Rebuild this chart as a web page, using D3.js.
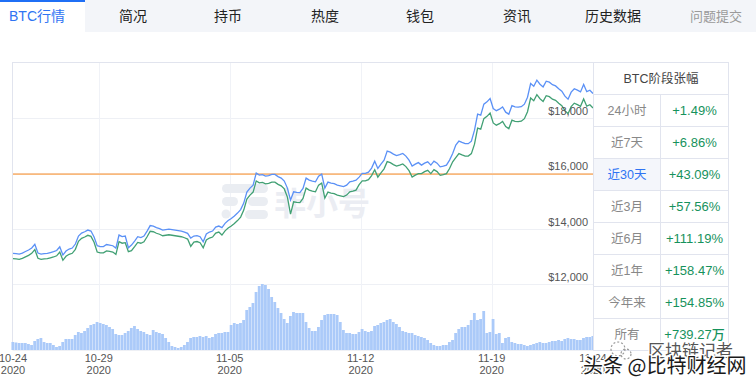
<!DOCTYPE html>
<html><head><meta charset="utf-8">
<script src="https://cdn.jsdelivr.net/npm/d3@7"></script>
<style>
html,body{margin:0;padding:0;background:#fff;}
svg{display:block;font-family:"Liberation Sans","Noto Sans CJK SC",Arial,sans-serif;}
</style></head>
<body>
<svg id="c" width="756" height="383"></svg>
<script>
// ---------------- DATA ----------------
const tabs = ["BTC行情","简况","持币","热度","钱包","资讯","历史数据","问题提交"];
const startTime = new Date(2020, 9, 24, 10, 0); // first sample, 4-hour steps
const stepHours = 4;
const bluePrice = [13105,13098,13080,13116,13170,13224,13296,13429,13116,13080,13098,13105,13134,13163,13206,13343,13044,13188,13260,13296,
13440,13728,13836,13883,13944,13908,13692,13379,13350,13350,13422,13404,13379,13296,13764,13710,13728,13307,13404,13548,
13703,13674,13728,13908,14106,14088,14034,13998,13944,13962,13980,13962,13944,13926,13908,13872,13825,13656,13728,13746,
13703,13523,13800,13872,13908,14052,14088,14034,14185,14286,14358,14448,14556,14682,14916,15312,15456,15564,15996,15924,
15942,15888,15906,15949,15949,15870,15816,15708,15456,15024,15323,15301,15294,15445,15816,15744,15708,15683,15888,15960,
15456,15672,15636,15618,15564,15539,15510,15564,15683,15708,15744,15852,15985,15985,16032,16176,16428,16165,16320,16464,
16788,16752,16680,16626,16662,16705,16608,16464,16248,16320,16374,16284,16356,16403,16284,16428,16356,16223,16248,16284,
16464,16705,17004,17148,17101,17058,17058,17148,17544,18120,18084,18480,18563,18685,18325,18246,18300,18383,18192,18120,
18426,18383,18372,18390,18480,18732,19225,19128,19344,19200,19103,19308,19272,19182,19139,19038,18948,18768,18660,18912,
19038,18984,18923,19189,18930,18984,18865];
const greenPrice = [12915,12908,12890,12926,12980,13034,13106,13239,12926,12890,12908,12915,12944,12973,13016,13153,12854,12998,13070,13106,
13250,13538,13646,13693,13754,13718,13502,13152,13123,13123,13195,13177,13152,13069,13524,13470,13488,13163,13199,13343,
13498,13469,13523,13703,13901,13883,13829,13793,13739,13757,13775,13757,13739,13721,13703,13667,13620,13356,13512,13530,
13487,13307,13584,13656,13692,13836,13872,13764,13915,14016,14088,14178,14286,14412,14664,15060,15204,15312,15715,15643,
15661,15607,15625,15668,15668,15589,15535,15427,15132,14520,14963,14941,14934,15085,15456,15384,15348,15323,15564,15636,
15096,15312,15276,15258,15204,15179,15150,15204,15323,15348,15384,15582,15715,15715,15762,15906,16115,15852,16007,16151,
16410,16374,16302,16248,16284,16327,16230,16086,15852,15924,15978,15978,16050,16097,15978,16122,16050,15917,15942,15978,
16162,16403,16554,16698,16651,16608,16608,16698,17040,17616,17580,17958,18041,18163,17803,17724,17778,17861,17670,17598,
17904,17861,17850,17868,17958,18210,18703,18606,18822,18678,18581,18786,18750,18660,18617,18516,18426,18246,18138,18390,
18516,18462,18401,18667,18408,18462,18343];
const volume = [8,7.5,7,7,7,6,5,9,11,12,8,7,7,5,3,4,8,11,11,11,
15,18,17,19,22,25,26,28,27,26,25,23,21,16,15,15,17,19,22,24,
21,19,18,16,15,20,18,17,16,12,8,4,3,2,3,5,8,12,13,13,
14,13,14,12,13,16,17,17,18,18,25,27,26,27,30,40,43,47,58,64,
66,65,61,53,48,42,37,31,27,34,38,37,37,37,28,22,19,19,23,30,
35,36,36,36,35,28,20,17,17,16,16,18,21,19,18,19,24,25,27,28,
30,31,28,26,23,19,18,17,17,15,14,13,12,10,7,5,4,4,5,5,
8,10,17,21,23,23,25,30,37,30,31,39,17,18,31,16,17,7,12,13,
8,7,6,6,5,4,5,6,7,8,7,7,8,9,9,10,9,11,12,11,
11,10,10,12,13,13,14];
const referencePrice = 15960;
const priceTicks = [12000,14000,16000,18000];
const dateTicks = [new Date(2020,9,29), new Date(2020,10,5), new Date(2020,10,12), new Date(2020,10,19)];
const periodLabels = ["24小时","近7天","近30天","近3月","近6月","近1年","今年来","所有"];
const periodValues = ["+1.49%","+6.86%","+43.09%","+57.56%","+111.19%","+158.47%","+154.85%","+739.27万"];
const tableTitle = "BTC阶段张幅";
const selectedPeriod = 2;

// ---------------- DRAW ----------------
const svg = d3.select("#c");
const times = bluePrice.map((_, i) => d3.timeHour.offset(startTime, i * stepHours));
const endTime = times[times.length - 1];

// tab bar
svg.append("rect").attr("x",0).attr("y",0).attr("width",756).attr("height",32).attr("fill","#f3f5f9");
svg.append("rect").attr("x",0).attr("y",0).attr("width",85).attr("height",32).attr("fill","#fff");
svg.append("rect").attr("x",0).attr("y",0).attr("width",85).attr("height",2).attr("fill","#1f6ff5");
const tabX = [37,133,228,325,420,517,613,716];
tabs.forEach((t,i)=>{
  svg.append("text").attr("x",tabX[i]).attr("y",21).attr("text-anchor","middle")
    .attr("font-size", i===7?13:14)
    .attr("fill", i===0?"#2f74f3":(i===7?"#9a9a9a":"#222"))
    .text(t);
});

const x = d3.scaleTime().domain([startTime, endTime]).range([13, 593]);
const y = d3.scaleLinear().domain([12000, 20000]).range([284, 62]);
const yv = d3.scaleLinear().domain([0, d3.max(volume)]).range([350, 284]);

// grid
const g = svg.append("g");
g.selectAll("line.hg").data(priceTicks).join("line")
  .attr("x1",13).attr("x2",593).attr("y1",d=>Math.round(y(d))+0.5).attr("y2",d=>Math.round(y(d))+0.5)
  .attr("stroke","#eef0f5");
g.selectAll("line.vg").data(dateTicks).join("line")
  .attr("x1",d=>Math.round(x(d))+0.5).attr("x2",d=>Math.round(x(d))+0.5).attr("y1",62).attr("y2",350)
  .attr("stroke","#f0f2f7");
// frame
g.append("line").attr("x1",12.5).attr("x2",12.5).attr("y1",62).attr("y2",350).attr("stroke","#e1e4ee");
g.append("line").attr("x1",12.5).attr("x2",728.5).attr("y1",62.5).attr("y2",62.5).attr("stroke","#e1e4ee");
g.append("line").attr("x1",12.5).attr("x2",593).attr("y1",350.5).attr("y2",350.5).attr("stroke","#eef0f5");

// watermark logo
const wm = svg.append("g").attr("fill","#eaedf2");
wm.append("rect").attr("x",222).attr("y",184).attr("width",46).attr("height",9).attr("rx",4.5);
wm.append("rect").attr("x",222).attr("y",197).attr("width",16).attr("height",9).attr("rx",4.5);
wm.append("rect").attr("x",248).attr("y",197).attr("width",20).attr("height",9).attr("rx",4.5);
wm.append("circle").attr("cx",226).attr("cy",214).attr("r",4.5);
wm.append("rect").attr("x",245).attr("y",210).attr("width",23).attr("height",9).attr("rx",4.5);
wm.append("text").attr("x",274).attr("y",215).attr("font-size",32).attr("font-weight","bold")
  .attr("font-family","Noto Sans CJK SC").attr("fill","#ebedf3").text("非小号");

// volume bars
const bw = (x(times[1]) - x(times[0]));
svg.append("g").selectAll("rect").data(volume).join("rect")
  .attr("x",(d,i)=>x(times[i]) - bw/2)
  .attr("width",bw*0.9)
  .attr("y",d=>yv(d)).attr("height",d=>350 - yv(d))
  .attr("fill","#abcaf9");

// reference line
svg.append("line").attr("x1",13).attr("x2",593).attr("y1",y(referencePrice)).attr("y2",y(referencePrice))
  .attr("stroke","#f9b97c").attr("stroke-width",1.6);

// price lines
const line = d3.line().x((d,i)=>x(times[i])).y(d=>y(d));
svg.append("path").datum(greenPrice).attr("d",line).attr("fill","none").attr("stroke","#41a074").attr("stroke-width",1.3);
svg.append("path").datum(bluePrice).attr("d",line).attr("fill","none").attr("stroke","#5b91f6").attr("stroke-width",1.3);

// y axis labels (right, inside)
svg.append("g").selectAll("text").data(priceTicks).join("text")
  .attr("x",588).attr("y",d=>y(d)-3).attr("text-anchor","end")
  .attr("font-size",11).attr("fill","#555")
  .text(d=>"$"+d3.format(",")(d));

// x axis labels
const xLabels = [startTime, ...dateTicks, endTime];
const fmtMD = d3.timeFormat("%m-%d"), fmtY = d3.timeFormat("%Y");
const xl = svg.append("g").selectAll("g").data(xLabels).join("g")
  .attr("transform",d=>`translate(${x(d)},0)`);
xl.append("text").attr("y",362).attr("text-anchor","middle").attr("font-size",11).attr("fill","#555").text(d=>fmtMD(d));
xl.append("text").attr("y",374).attr("text-anchor","middle").attr("font-size",11).attr("fill","#555").text(d=>fmtY(d));

// table
const tb = svg.append("g");
const tX0 = 593.5, tX1 = 660.5, tX2 = 728.5, tY0 = 62.5, headH = 32, rowH = 32;
const tY1 = tY0 + headH + rowH*periodLabels.length;
tb.append("rect").attr("x",tX0).attr("y",tY0).attr("width",tX2-tX0).attr("height",tY1-tY0).attr("fill","#fff");
tb.append("rect").attr("x",tX0).attr("y",tY0+headH+rowH*selectedPeriod).attr("width",tX1-tX0).attr("height",rowH).attr("fill","#f4f6fb");
tb.append("text").attr("x",(tX0+tX2)/2).attr("y",tY0+headH/2+4.5).attr("text-anchor","middle")
  .attr("font-size",12.5).attr("fill","#444").text(tableTitle);
periodLabels.forEach((lab,i)=>{
  const cy = tY0+headH+rowH*i+rowH/2;
  tb.append("text").attr("x",(tX0+tX1)/2).attr("y",cy+4.5).attr("text-anchor","middle")
    .attr("font-size",12.5).attr("fill", i===selectedPeriod?"#2f74f3":"#888").text(lab);
  tb.append("text").attr("x",(tX1+tX2)/2).attr("y",cy+4.5).attr("text-anchor","middle")
    .attr("font-size",13).attr("font-weight",500).attr("fill","#16925c").text(periodValues[i]);
});
const rowYs = d3.range(periodLabels.length+1).map(i=>tY0+headH+rowH*i);
tb.selectAll("line.r").data(rowYs).join("line")
  .attr("x1",tX0).attr("x2",tX2).attr("y1",d=>d).attr("y2",d=>d).attr("stroke","#e1e4ee");
tb.append("line").attr("x1",tX1).attr("x2",tX1).attr("y1",tY0+headH).attr("y2",tY1).attr("stroke","#e1e4ee");
tb.append("rect").attr("x",tX0).attr("y",tY0).attr("width",tX2-tX0).attr("height",tY1-tY0)
  .attr("fill","none").attr("stroke","#e1e4ee");

// bottom-right watermark
const wk = svg.append("g").attr("font-family","Noto Sans CJK SC");
wk.append("text").attr("x",648).attr("y",357).attr("font-size",17).attr("fill","#555")
  .attr("stroke","#fff").attr("stroke-width",2.5).attr("paint-order","stroke").text("区块链记者");
wk.append("circle").attr("cx",618).attr("cy",349).attr("r",7).attr("fill","none").attr("stroke","#999").attr("stroke-width",1.2).attr("stroke-dasharray","2,2");
wk.append("circle").attr("cx",626).attr("cy",354).attr("r",5).attr("fill","none").attr("stroke","#999").attr("stroke-width",1.2).attr("stroke-dasharray","2,2");
wk.append("text").attr("x",583).attr("y",373).attr("font-size",20).attr("fill","#1a1a1a")
  .attr("stroke","#fff").attr("stroke-width",2.5).attr("paint-order","stroke").text("头条 @比特财经网");
</script>
</body></html>
